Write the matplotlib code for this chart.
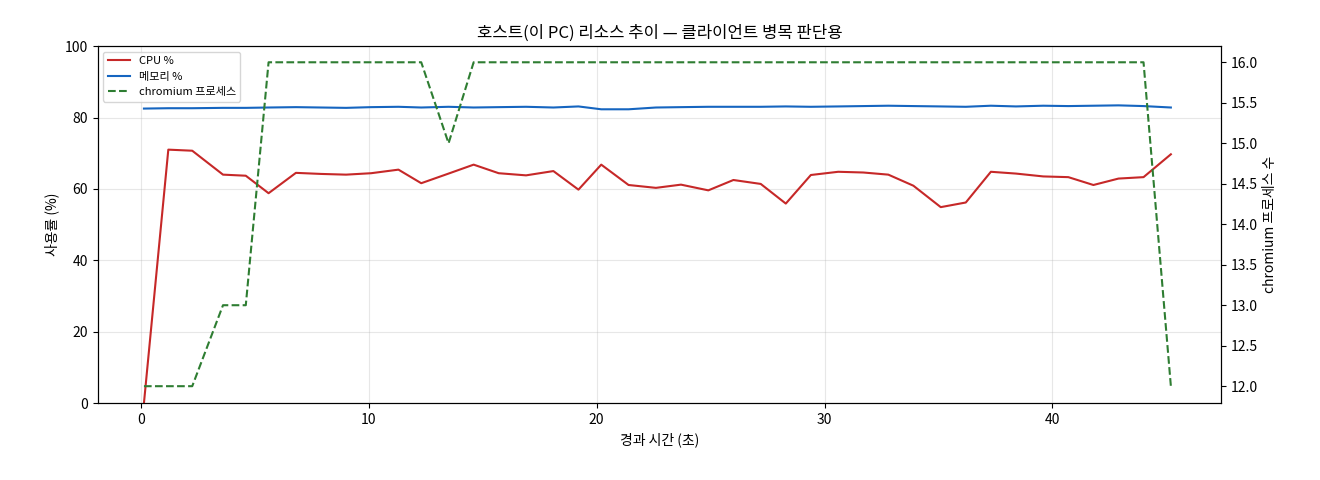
import matplotlib
matplotlib.use("Agg")
import matplotlib.pyplot as plt
plt.rcParams['font.family'] = ['Noto Sans CJK KR', 'DejaVu Sans']

t = [0.13,1.2,2.25,3.6,4.6,5.6,6.8,7.9,9.0,10.1,11.3,12.3,13.5,14.6,15.7,16.9,18.1,19.2,20.2,21.4,
     22.6,23.7,24.9,26.0,27.2,28.3,29.4,30.6,31.7,32.8,33.9,35.1,36.2,37.3,38.4,39.6,40.7,41.8,42.9,44.0,45.2]
cpu = [0,71,70.7,64,63.7,58.8,64.5,64.2,64,64.4,65.4,61.6,64.3,66.8,64.4,63.8,65,59.8,66.8,61.1,
       60.3,61.2,59.6,62.5,61.4,55.9,63.9,64.8,64.6,64,60.9,54.9,56.2,64.8,64.3,63.5,63.3,61.1,62.9,63.3,69.7]
mem = [82.5,82.6,82.6,82.7,82.7,82.8,82.9,82.8,82.7,82.9,83.0,82.8,83.0,82.8,82.9,83.0,82.8,83.1,82.3,82.3,
       82.8,82.9,83.0,83.0,83.0,83.1,83.0,83.1,83.2,83.3,83.2,83.1,83.0,83.3,83.1,83.3,83.2,83.3,83.4,83.2,82.8]
chrom = [12,12,12,13,13,16,16,16,16,16,16,16,15,16,16,16,16,16,16,16,
         16,16,16,16,16,16,16,16,16,16,16,16,16,16,16,16,16,16,16,16,12]

fig, ax = plt.subplots(figsize=(13.2, 4.8), dpi=100)
l1, = ax.plot(t, cpu, color='#c62828', lw=1.5, label='CPU %')
l2, = ax.plot(t, mem, color='#1565c0', lw=1.5, label='메모리 %')
ax.set_ylim(0, 100)
ax.set_xlim(-1.9, 47.4)
ax.set_xlabel('경과 시간 (초)')
ax.set_ylabel('사용률 (%)')
ax.grid(True, alpha=0.3)
ax2 = ax.twinx()
l3, = ax2.plot(t, chrom, color='#2e7d32', lw=1.5, ls='--', label='chromium 프로세스')
ax2.set_ylim(11.79, 16.2)
ax2.set_ylabel('chromium 프로세스 수')
ax.set_title('호스트(이 PC) 리소스 추이 — 클라이언트 병목 판단용')
ax.legend(handles=[l1, l2, l3], loc='upper left', fontsize=8)
fig.subplots_adjust(left=0.074, right=0.925, top=0.904, bottom=0.16)
fig.savefig('out.png')
